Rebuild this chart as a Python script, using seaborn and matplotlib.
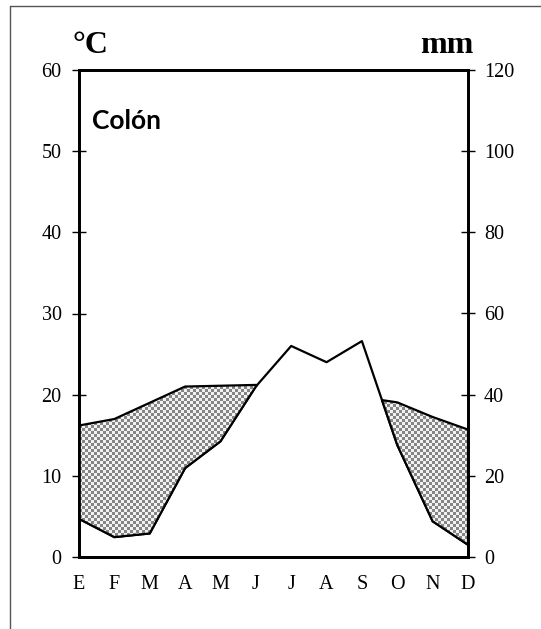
import numpy as np
import pandas as pd
import seaborn as sns
import matplotlib
matplotlib.use('Agg')
import matplotlib.pyplot as plt
from matplotlib.path import Path
from matplotlib.lines import Line2D
from matplotlib.colors import ListedColormap

# Climate diagram data (Colón)
months = ['E', 'F', 'M', 'A', 'M', 'J', 'J', 'A', 'S', 'O', 'N', 'D']
temp_c = [16.2, 17.0, 19.0, 21.0, 21.1, 21.2, 20.8, 20.3, 19.7, 19.05, 17.25, 15.7]
precip_mm = [9.4, 4.9, 5.8, 21.9, 28.5, 42.0, 52.0, 48.0, 53.2, 27.6, 8.8, 3.0]
station = 'Colón'

sns.set_theme(style='white')
plt.rcParams['font.family'] = ['Liberation Serif', 'DejaVu Serif']
plt.rcParams['text.color'] = 'black'
plt.rcParams['xtick.color'] = 'black'
plt.rcParams['ytick.color'] = 'black'

df = pd.DataFrame({'m': np.arange(len(months)), 'temp': temp_c, 'precip': precip_mm})
df['precip_half'] = df['precip'] / 2.0

fig = plt.figure(figsize=(5.41, 6.29), dpi=100)
ax = fig.add_axes([79 / 541, 1 - 557 / 629, (468 - 79) / 541, (557 - 70) / 629])
ax2 = ax.twinx()

# dry period: temperature above precipitation/2
dry = ax.fill_between(df['m'], df['temp'], df['precip_half'],
                      where=df['temp'] >= df['precip_half'], interpolate=True,
                      facecolor='none', edgecolor='black', linewidth=1.6, zorder=3)

# checkerboard texture clipped to the dry polygons
ny, nx = 162, 130
yy, xx = np.mgrid[0:ny, 0:nx]
checker = ((xx + yy) % 2).astype(float)
im = ax.imshow(checker, extent=(0, 11, 0, 60), aspect='auto',
               cmap=ListedColormap(['#858585', '#f2f2f2']),
               vmin=0, vmax=1, interpolation='nearest', zorder=2)
clip = Path.make_compound_path(*dry.get_paths())
im.set_clip_path(clip, ax.transData)

sns.lineplot(data=df, x='m', y='precip', ax=ax2, color='black', linewidth=1.6, zorder=4)

ax.set_xlim(0, 11)
ax.set_ylim(0, 60)
ax2.set_ylim(0, 120)
ax.set_xticks(range(len(months)))
ax.set_xticklabels(months)
ax.set_yticks(range(0, 61, 10))
ax2.set_yticks(range(0, 121, 20))
ax.set_xlabel('')
ax.set_ylabel('')
ax2.set_xlabel('')
ax2.set_ylabel('')

for a in (ax, ax2):
    for s in a.spines.values():
        s.set_linewidth(2.0)
        s.set_color('black')
    a.tick_params(direction='inout', length=10, width=1, color='black',
                  labelsize=14.5, labelcolor='black')
ax.tick_params(axis='x', pad=8)
ax.tick_params(axis='y', pad=7.5)
ax2.tick_params(axis='y', pad=6.5)
ax.set_zorder(ax2.get_zorder() + 1)
ax.patch.set_visible(False)

ax.text(0.033, 0.879, station, transform=ax.transAxes, fontsize=19,
        fontweight='bold', family=['Lato', 'DejaVu Sans'], va='baseline', zorder=5)

fig.text(73 / 541, 1 - 53 / 629, '°C', fontsize=23, fontweight='bold', va='baseline')
fig.text(473 / 541, 1 - 53 / 629, 'mm', fontsize=23, fontweight='bold', va='baseline', ha='right')

# outer frame
fig.add_artist(Line2D([9.5 / 541, 9.5 / 541], [0, 1 - 6 / 629], transform=fig.transFigure,
                      color='#555555', linewidth=1))
fig.add_artist(Line2D([9.5 / 541, 1], [1 - 6 / 629, 1 - 6 / 629], transform=fig.transFigure,
                      color='#555555', linewidth=1))

fig.savefig('out.png', dpi=100)
